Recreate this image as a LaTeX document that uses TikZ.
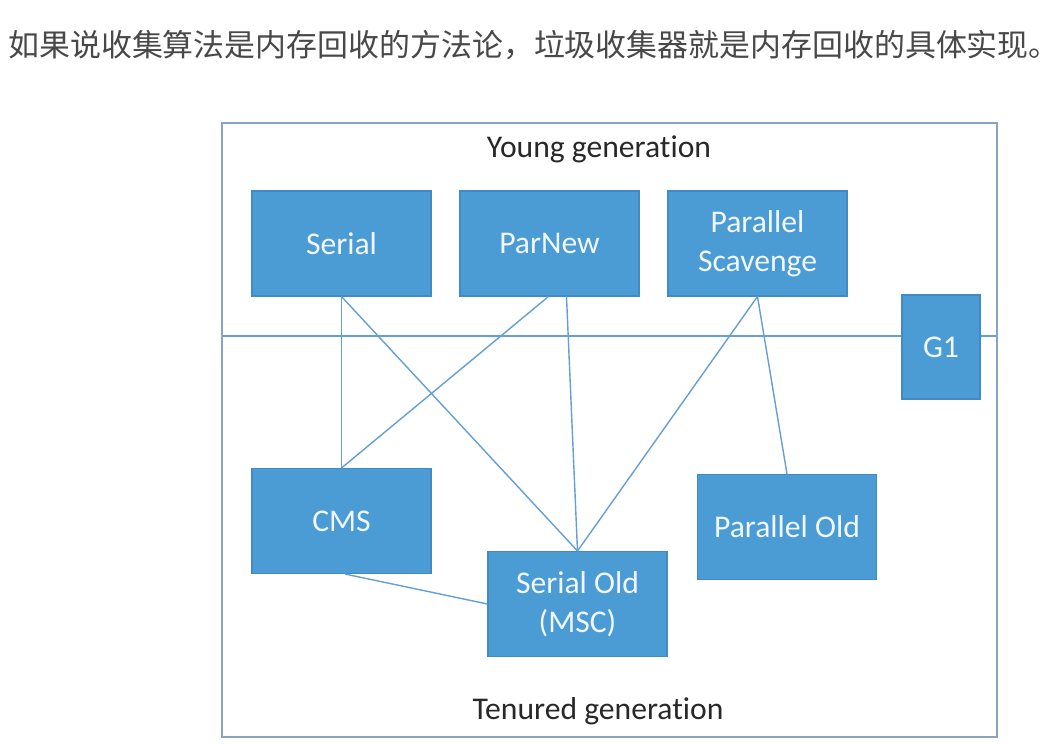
\documentclass[tikz,border=0pt]{standalone}
\usepackage{fontspec}
\setmainfont{Carlito}[Ligatures=NoCommon]
\newfontfamily\cjkfont{Noto Sans CJK SC}
\usetikzlibrary{positioning,calc}
\definecolor{gcblue}{RGB}{75,155,213}
\definecolor{gcedge}{RGB}{66,138,198}
\definecolor{gcline}{RGB}{100,160,215}
\definecolor{framegray}{RGB}{135,165,195}
\definecolor{textgray}{RGB}{40,40,40}

\begin{document}
\begin{tikzpicture}[
    x=0.02cm, y=-0.02cm,
    gcbox/.style={draw=gcedge, fill=gcblue, line width=0.6pt, text=white!92!gcblue,
                  align=center, font=\fontsize{18}{22}\selectfont,
                  minimum width=3.58cm, minimum height=2.1cm, inner sep=2pt},
    genlabel/.style={font=\fontsize{18}{22}\selectfont, text=textgray},
    link/.style={draw=gcline, line width=0.8pt}
]
\useasboundingbox (0,0) rectangle (1063,744);
\fill[white] (0,0) rectangle (1063,744);

\node[anchor=west, inner sep=0pt, font=\cjkfont\fontsize{17.6}{20}\selectfont, text=textgray!85!white]
    (caption) at (8,45) {如果说收集算法是内存回收的方法论，垃圾收集器就是内存回收的具体实现。};

% frame and generation split
\draw[framegray, line width=0.8pt] (222,123) rectangle (997,737);
\coordinate (splitl) at (222,336);
\coordinate (splitr) at (997,336);
\draw[link] (splitl) -- (splitr);

\node[genlabel] (young) at (599,149) {Young generation};
\node[genlabel] (tenured) at (598,711) {Tenured generation};

% young collectors
\node[gcbox] (serial) at (341.5,243.5) {Serial};
\node[gcbox] (parnew) at (549.5,243.5) {ParNew};
\node[gcbox] (pscav) at (757.5,243.5) {Parallel\\Scavenge};
\node[gcbox, minimum width=1.56cm, minimum height=2.08cm] (gone) at (941,347) {G1};

% tenured collectors
\node[gcbox] (cms) at (341.5,521) {CMS};
\node[gcbox] (serialold) at (577.5,604) {Serial Old\\(MSC)};
\node[gcbox] (parold) at (787,527) {Parallel Old};

\draw[link] (serial.south) -- (cms.north);
\draw[link] (serial.south) -- (serialold.north);
\draw[link] ([xshift=-0.02cm]parnew.south) -- (cms.north);
\draw[link] ([xshift=0.34cm]parnew.south) -- (serialold.north);
\draw[link] (pscav.south) -- (serialold.north);
\draw[link] (pscav.south) -- (parold.north);
\draw[link] ([xshift=0.07cm]cms.south) -- (serialold.west);
\end{tikzpicture}
\end{document}
